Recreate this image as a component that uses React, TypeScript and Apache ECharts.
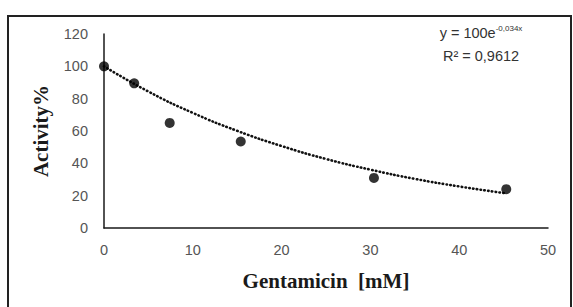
import React, { useEffect, useRef } from "react";
import * as echarts from "echarts";

const concentrations = [0, 3.4, 7.4, 15.4, 30.4, 45.3];
const activities = [100, 89.5, 65, 53.5, 31, 24];
const trendX = [0, 5, 10, 15, 20, 25, 30, 35, 40, 45.3];
const trendY = [100, 84.4, 71.2, 60.1, 50.7, 42.7, 36.1, 30.4, 25.7, 21.4];
const xTicks = [0, 10, 20, 30, 40, 50];
const yTicks = [0, 20, 40, 60, 80, 100, 120];

export default function App() {
  const ref = useRef<HTMLDivElement>(null);
  useEffect(() => {
    document.body.style.margin = "0";
    const chart = echarts.init(ref.current!, null, { renderer: "svg" });
    chart.setOption({
      animation: false,
      backgroundColor: "#ffffff",
      grid: { left: 104, right: 25, top: 34, bottom: 79 },
      xAxis: {
        type: "value",
        min: xTicks[0],
        max: xTicks[xTicks.length - 1],
        interval: 10,
        splitLine: { show: false },
        axisTick: { show: false },
        axisLine: { show: true, lineStyle: { color: "#1a1a1a", width: 1.5 } },
        axisLabel: { color: "#555", fontSize: 14.5, fontFamily: "Liberation Sans", margin: 14 },
        name: "Gentamicin  [mM]",
        nameLocation: "middle",
        nameGap: 42,
        nameTextStyle: { fontFamily: "Liberation Serif", fontWeight: "bold", fontSize: 21, color: "#1a1a1a" },
      },
      yAxis: {
        type: "value",
        min: yTicks[0],
        max: yTicks[yTicks.length - 1],
        interval: 20,
        splitLine: { show: false },
        axisTick: { show: false },
        axisLine: { show: true, lineStyle: { color: "#1a1a1a", width: 1.5 } },
        axisLabel: { color: "#555", fontSize: 14.5, fontFamily: "Liberation Sans", margin: 16 },
        name: "Activity%",
        nameLocation: "middle",
        nameGap: 53,
        nameTextStyle: { fontFamily: "Liberation Serif", fontWeight: "bold", fontSize: 21, color: "#1a1a1a" },
      },
      series: [
        {
          type: "line",
          data: trendX.map((x, i) => [x, trendY[i]]),
          smooth: true,
          showSymbol: false,
          lineStyle: { color: "#111", width: 2.6, type: [0.5, 3.3], cap: "round" },
          z: 2,
        },
        {
          type: "scatter",
          data: concentrations.map((x, i) => [x, activities[i]]),
          symbolSize: 10,
          itemStyle: { color: "#000" },
          z: 3,
        },
      ],
      graphic: [
        {
          type: "rect",
          shape: { x: 8, y: 16, width: 563, height: 310 },
          style: { fill: "none", stroke: "#222", lineWidth: 2 },
          silent: true,
        },
        {
          type: "text",
          x: 481,
          y: 33,
          style: {
            text: "{a|y = 100e}{s|-0,034x}",
            align: "center",
            verticalAlign: "middle",
            rich: {
              a: { fontSize: 14.5, fontFamily: "Liberation Sans", fill: "#333" },
              s: { fontSize: 8, fontFamily: "Liberation Sans", fill: "#333", verticalAlign: "top", padding: [0, 0, 9, 0] },
            },
          },
        },
        {
          type: "text",
          x: 481,
          y: 56,
          style: {
            text: "R² = 0,9612",
            align: "center",
            verticalAlign: "middle",
            fontSize: 14.5,
            fontFamily: "Liberation Sans",
            fill: "#333",
          },
        },
      ],
    });
    return () => chart.dispose();
  }, []);
  return <div ref={ref} style={{ width: 573, height: 307 }} />;
}
